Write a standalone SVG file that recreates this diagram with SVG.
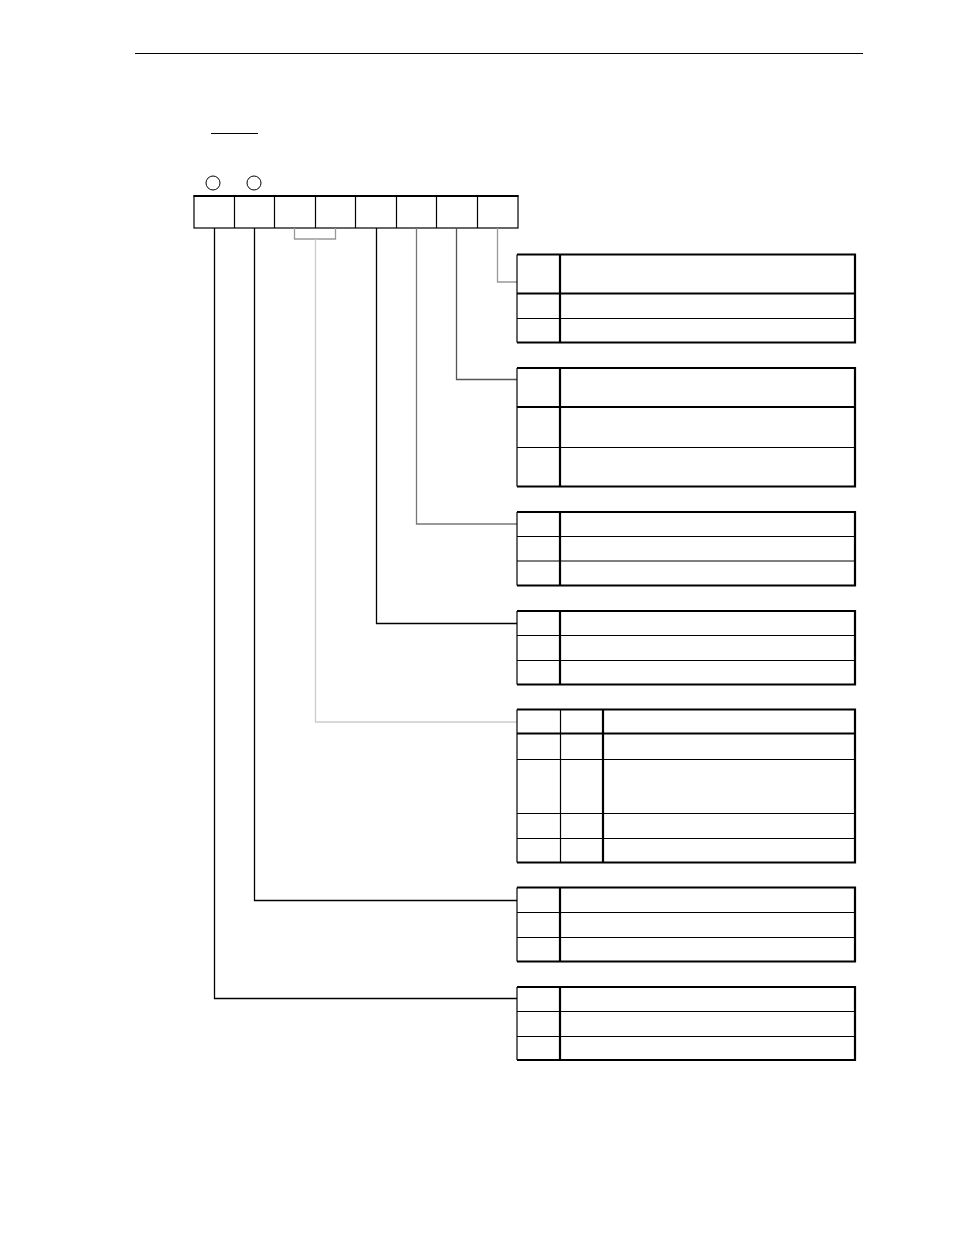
<svg xmlns="http://www.w3.org/2000/svg" width="954" height="1235" viewBox="0 0 954 1235">
<style>
.thin{stroke:#000;stroke-width:1.2;fill:none}
.thick{stroke:#000;stroke-width:2.2;fill:none}
.conn{fill:none;stroke-width:1.3}
</style>
<rect x="0" y="0" width="954" height="1235" fill="#fff"/>
<g id="header">
<line x1="135" y1="53.5" x2="863" y2="53.5" class="thin"/>
<line x1="211" y1="133.5" x2="258" y2="133.5" class="thin"/>
</g>
<g id="register">
<circle cx="213" cy="183" r="7" fill="none" stroke="#000" stroke-width="1"/>
<circle cx="254" cy="183" r="7" fill="none" stroke="#000" stroke-width="1"/>
<rect x="194" y="196" width="324" height="32" class="thin"/>
<line x1="193.5" y1="196" x2="518.5" y2="196" class="thick"/>
<path d="M234.5 196V228M274.5 196V228M315.5 196V228M355.5 196V228M396.5 196V228M436.5 196V228M477.5 196V228" class="thin"/>
</g>
<g id="connectors">
<path d="M497.5 228V282H517" class="conn" stroke="#999"/>
<path d="M456.5 228V379.5H517" class="conn" stroke="#555"/>
<path d="M416.5 228V524H517" class="conn" stroke="#777"/>
<path d="M376.5 228V623.5H517" class="conn" stroke="#000"/>
<path d="M294.5 228V239H335.5V228" class="conn" stroke="#999"/>
<path d="M315.5 239V722H517" class="conn" stroke="#ccc"/>
<path d="M254.5 228V900.5H517" class="conn" stroke="#000"/>
<path d="M214.5 228V998.5H517" class="conn" stroke="#000"/>
</g>
<g id="table1">
<line x1="517" y1="254.5" x2="517" y2="342.5" class="thin"/>
<path d="M517 254.5H855V342.5H517M560 254.5V342.5M517 293.5H855" class="thick"/>
<line x1="517" y1="318.5" x2="855" y2="318.5" class="thin"/>
</g>
<g id="table2">
<line x1="517" y1="368" x2="517" y2="486.5" class="thin"/>
<path d="M517 368H855V486.5H517M560 368V486.5M517 407H855" class="thick"/>
<line x1="517" y1="447.5" x2="855" y2="447.5" class="thin"/>
</g>
<g id="table3">
<line x1="517" y1="512" x2="517" y2="585.5" class="thin"/>
<path d="M517 512H855V585.5H517M560 512V585.5" class="thick"/>
<path d="M517 536.5H855" class="thin"/>
<path d="M517 561H855" class="thin" stroke="#555"/>
</g>
<g id="table4">
<line x1="517" y1="611" x2="517" y2="684.5" class="thin"/>
<path d="M517 611H855V684.5H517M560 611V684.5" class="thick"/>
<path d="M517 635.5H855M517 660.5H855" class="thin"/>
</g>
<g id="table5">
<line x1="517" y1="709.5" x2="517" y2="862.5" class="thin"/>
<path d="M517 709.5H855V862.5H517M603 709.5V862.5M517 733.5H855" class="thick"/>
<path d="M560.5 709.5V862.5M517 759.5H855M517 813.5H855M517 838.5H855" class="thin"/>
</g>
<g id="table6">
<line x1="517" y1="887.5" x2="517" y2="961.5" class="thin"/>
<path d="M517 887.5H855V961.5H517M560 887.5V961.5" class="thick"/>
<path d="M517 912.5H855M517 937.5H855" class="thin"/>
</g>
<g id="table7">
<line x1="517" y1="987" x2="517" y2="1060" class="thin"/>
<path d="M517 987H855V1060H517M560 987V1060" class="thick"/>
<path d="M517 1011.5H855M517 1036.5H855" class="thin"/>
</g>
</svg>
